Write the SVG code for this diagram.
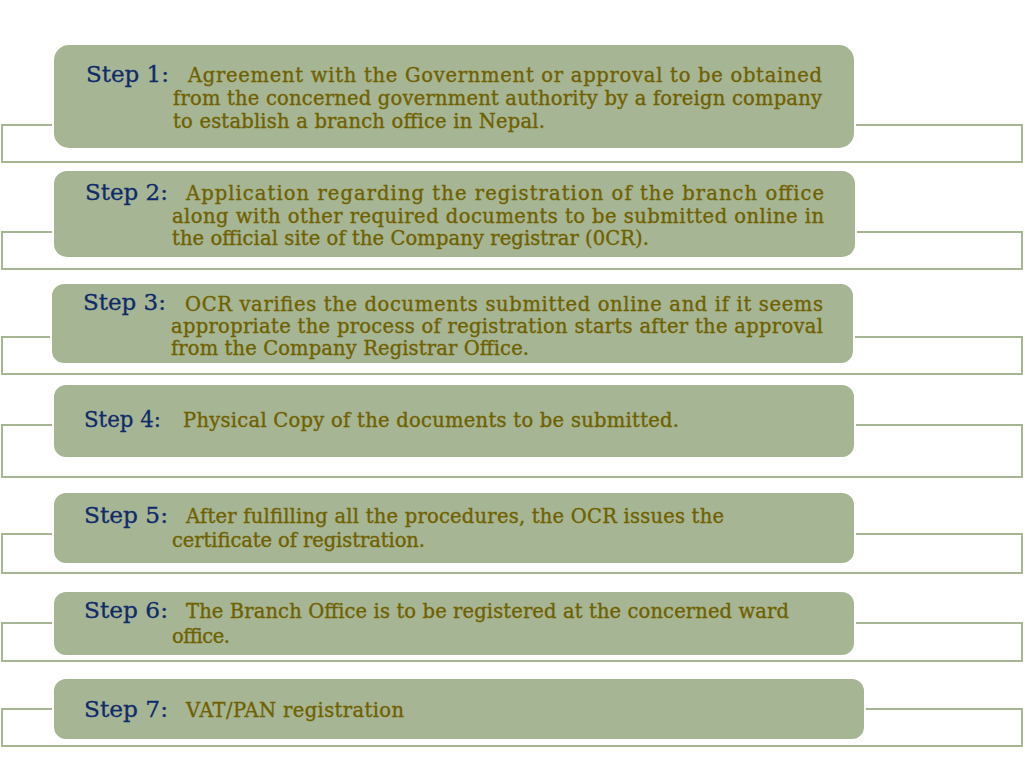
<svg xmlns="http://www.w3.org/2000/svg" width="1025" height="775" viewBox="0 0 1025 775">
<style>
.frame{fill:none;stroke:#a6b593;stroke-width:2}
.box{fill:#a6b593;stroke:#ffffff;stroke-width:2}
.lbl{font-family:"DejaVu Serif","Liberation Serif",serif;font-size:23px;fill:#0f2a6b;stroke:#0f2a6b;stroke-width:0.3}
.txt{font-family:"DejaVu Serif","Liberation Serif",serif;font-size:19.5px;fill:#6f6100;stroke:#6f6100;stroke-width:0.35}
</style>
<rect width="1025" height="775" fill="#ffffff"/>
<g id="connectors">
<rect class="frame" x="2" y="125" width="1020" height="37"/>
<rect class="frame" x="2" y="232" width="1020" height="37"/>
<rect class="frame" x="2" y="337" width="1020" height="37"/>
<rect class="frame" x="2" y="425" width="1020" height="52"/>
<rect class="frame" x="2" y="534" width="1020" height="39"/>
<rect class="frame" x="2" y="623" width="1020" height="38"/>
<rect class="frame" x="2" y="709" width="1020" height="37"/>
</g>
<g id="step1">
<rect class="box" x="53" y="44" width="802" height="105" rx="16"/>
<text class="lbl" x="86" y="82" textLength="83" lengthAdjust="spacingAndGlyphs">Step 1:</text>
<text class="txt" x="188" y="82" textLength="634" lengthAdjust="spacing">Agreement with the Government or approval to be obtained</text>
<text class="txt" x="173" y="105" textLength="649" lengthAdjust="spacing">from the concerned government authority by a foreign company</text>
<text class="txt" x="173" y="128" textLength="372" lengthAdjust="spacing">to establish a branch office in Nepal.</text>
</g>
<g id="step2">
<rect class="box" x="53" y="170" width="803" height="88" rx="14"/>
<text class="lbl" x="85" y="200" textLength="83" lengthAdjust="spacingAndGlyphs">Step 2:</text>
<text class="txt" x="186" y="200" textLength="638" lengthAdjust="spacing">Application regarding the registration of the branch office</text>
<text class="txt" x="172" y="223" textLength="652" lengthAdjust="spacing">along with other required documents to be submitted online in</text>
<text class="txt" x="172" y="245" textLength="477" lengthAdjust="spacing">the official site of the Company registrar (0CR).</text>
</g>
<g id="step3">
<rect class="box" x="51" y="283" width="803" height="81" rx="13"/>
<text class="lbl" x="83" y="310" textLength="83" lengthAdjust="spacingAndGlyphs">Step 3:</text>
<text class="txt" x="185" y="311" textLength="638" lengthAdjust="spacing">OCR varifies the documents submitted online and if it seems</text>
<text class="txt" x="171" y="333" textLength="652" lengthAdjust="spacing">appropriate the process of registration starts after the approval</text>
<text class="txt" x="171" y="355" textLength="358" lengthAdjust="spacing">from the Company Registrar Office.</text>
</g>
<g id="step4">
<rect class="box" x="53" y="384" width="802" height="74" rx="13"/>
<text class="lbl" x="84" y="427" textLength="77" lengthAdjust="spacingAndGlyphs">Step 4:</text>
<text class="txt" x="183" y="427" textLength="496" lengthAdjust="spacing">Physical Copy of the documents to be submitted.</text>
</g>
<g id="step5">
<rect class="box" x="53" y="492" width="802" height="72" rx="13"/>
<text class="lbl" x="84" y="523" textLength="84" lengthAdjust="spacingAndGlyphs">Step 5:</text>
<text class="txt" x="186" y="523" textLength="538" lengthAdjust="spacing">After fulfilling all the procedures, the OCR issues the</text>
<text class="txt" x="172" y="547" textLength="253" lengthAdjust="spacing">certificate of registration.</text>
</g>
<g id="step6">
<rect class="box" x="53" y="591" width="802" height="65" rx="13"/>
<text class="lbl" x="84" y="618" textLength="84" lengthAdjust="spacingAndGlyphs">Step 6:</text>
<text class="txt" x="186" y="618" textLength="603" lengthAdjust="spacing">The Branch Office is to be registered at the concerned ward</text>
<text class="txt" x="172" y="643" textLength="58" lengthAdjust="spacing">office.</text>
</g>
<g id="step7">
<rect class="box" x="53" y="678" width="812" height="62" rx="13"/>
<text class="lbl" x="84" y="717" textLength="84" lengthAdjust="spacingAndGlyphs">Step 7:</text>
<text class="txt" x="186" y="717" textLength="218" lengthAdjust="spacing">VAT/PAN registration</text>
</g>
</svg>
